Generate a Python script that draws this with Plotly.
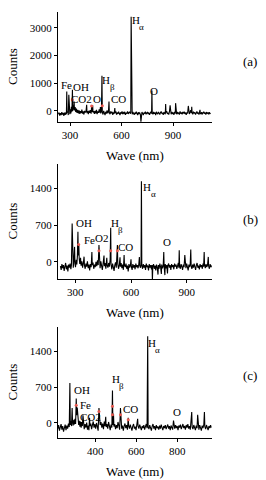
import plotly.graph_objects as go

# ---------------- data ----------------
spec_a = [(232,-120),(236,-60),(240,-170),(244,-80),(248,-150),(252,-40),(256,-130),(260,-70),(264,-180),(268,-60),
(272,-140),(276,-50),(279,-120),(281,700),(283,-60),(287,-20),(290,-150),(293,580),(295,-40),(299,-120),(302,60),
(305,-90),(308,150),(311,-30),(314,760),(316,0),(319,200),(321,40),(324,340),(326,20),(330,140),(333,-40),(337,80),
(341,-70),(345,40),(349,-90),(353,20),(357,-110),(361,-10),(365,-80),(369,50),(373,-100),(377,-20),(381,-130),(385,0),
(389,-60),(393,-20),(397,220),(399,-80),(403,-10),(407,-120),(411,10),(415,-70),(419,30),(423,-100),(426,180),(428,-40),
(432,200),(434,-60),(438,-10),(442,-110),(446,0),(450,-90),(454,40),(458,-120),(462,-20),(466,-70),(470,60),(474,-60),
(477,140),(479,-90),(483,-20),(486,1265),(488,-40),(492,-130),(496,0),(500,-80),(504,-150),(508,-30),(512,-100),(516,20),
(520,-90),(524,-10),(527,340),(529,-60),(533,-120),(537,-20),(541,-90),(545,-30),(549,-140),(553,-50),(557,-100),(561,100),
(563,-80),(567,-20),(571,-130),(575,-60),(579,-110),(583,-30),(587,-90),(591,-150),(595,-50),(599,-100),(603,-20),(607,-120),
(611,-60),(615,-90),(619,-30),(623,-140),(627,-70),(631,-100),(635,-20),(639,-110),(643,-60),(647,-30),(651,-100),(654,-60),
(656,3400),(658,-80),(662,-120),(666,-40),(670,-100),(674,-140),(678,-60),(682,-110),(686,-30),(690,-90),(694,-150),(698,-50),
(702,-100),(706,-70),(710,-130),(713,-390),(715,-110),(719,-40),(723,-90),(727,-150),(731,-60),(735,-100),(739,-30),(743,-120),
(747,-80),(751,-40),(755,-110),(759,-60),(763,-140),(767,-70),(771,-30),(775,-100),(777,735),(779,-80),(783,-120),(787,-40),
(791,-100),(795,-60),(799,-150),(803,-30),(807,-90),(811,-110),(815,-40),(819,-80),(823,-130),(827,-60),(831,-20),(835,-100),
(839,-70),(843,-140),(847,-40),(851,-90),(855,-120),(857,250),(859,-60),(863,-10),(867,-110),(871,-70),(875,-130),(879,-30),
(883,200),(885,-80),(889,-120),(893,-40),(897,-90),(901,-60),(905,-140),(909,-30),(913,-100),(915,280),(917,-70),(921,-120),
(925,-40),(929,-90),(933,-60),(937,-130),(941,-20),(945,-100),(949,-60),(953,-120),(957,-40),(961,-90),(965,-30),(969,-110),
(973,-60),(977,-140),(981,-50),(985,-90),(989,180),(991,-40),(995,-110),(999,-60),(1003,30),(1007,-80),(1009,150),(1011,-60),
(1015,-120),(1019,-30),(1023,-90),(1027,-50),(1031,-130),(1035,-70),(1039,-20),(1043,-100),(1047,-60),(1051,-130),(1055,-40),
(1057,40),(1059,-90),(1063,-110),(1067,-50),(1071,-120),(1075,-70),(1079,-30),(1083,-100),(1087,-60),(1091,-130),(1095,-40),
(1099,-90),(1103,-70),(1107,-120),(1111,-50),(1115,-100),(1119,-80)]

spec_b = [(221,-80),(225,-150),(229,-40),(233,-120),(237,-60),(241,-170),(245,-90),(249,-20),(253,-140),(257,-70),(261,-180),
(265,-50),(269,-110),(273,-30),(277,-140),(280,-60),(284,730),(286,-40),(290,-110),(293,20),(297,285),(299,-30),(302,-100),
(306,40),(309,-50),(312,100),(315,570),(317,120),(319,330),(320,300),(322,60),(325,-40),(329,80),(332,-70),(336,10),(340,-110),
(344,-20),(348,100),(350,-60),(354,-130),(358,-30),(362,-90),(366,10),(370,-120),(374,-50),(378,-160),(382,-40),(386,-100),
(390,190),(392,-60),(396,-10),(400,-130),(404,-50),(408,-100),(412,0),(416,-80),(420,30),(424,-60),(428,320),(430,-20),
(434,-120),(438,10),(442,-90),(446,-150),(450,-40),(455,120),(457,-80),(461,-20),(465,-130),(470,80),(472,-60),(476,-110),
(480,-20),(484,-90),(488,40),(491,650),(493,-50),(497,-140),(501,-30),(505,-100),(509,-170),(513,-60),(517,-10),(521,-110),
(524,60),(527,320),(529,-40),(533,-130),(537,-60),(541,90),(543,-90),(547,-20),(551,-120),(555,-50),(559,-150),(563,130),
(565,-60),(569,-100),(573,-30),(577,-130),(581,-70),(585,-180),(589,-40),(593,-110),(597,-60),(600,50),(602,-90),(606,-150),
(610,-40),(614,-110),(618,-60),(622,-140),(626,-30),(630,-100),(634,-60),(638,-120),(642,-40),(645,95),(647,-70),(651,-110),
(654,-50),(656,1530),(658,-60),(662,-130),(666,-40),(670,-110),(674,-60),(678,-150),(682,-30),(686,-100),(690,-70),(694,-160),
(698,-40),(702,-110),(706,-60),(710,-140),(713,-60),(715,-350),(717,-100),(721,-40),(725,-130),(729,-70),(733,-160),(737,-50),
(741,-110),(745,-240),(747,-60),(751,-130),(755,-30),(759,-100),(763,-230),(765,-50),(769,-120),(773,-70),(776,190),(778,-90),
(782,-250),(784,-40),(788,-120),(792,-60),(796,-220),(798,-70),(802,-30),(806,-110),(810,-60),(814,-150),(818,-40),(822,-100),
(826,-60),(830,-140),(834,-30),(838,-90),(842,-50),(846,-130),(850,-70),(854,-20),(857,-110),(859,220),(861,-60),(865,-130),
(869,-40),(873,-90),(877,-150),(881,-50),(885,-100),(889,130),(891,-60),(895,-120),(899,-30),(903,-90),(907,-160),(911,-50),
(915,-100),(918,-40),(921,235),(923,-70),(927,-130),(931,-50),(935,-110),(939,-30),(943,-90),(947,-150),(951,-60),(955,-20),
(959,-110),(963,-70),(967,-140),(971,-40),(975,-100),(979,-60),(983,-130),(987,-30),(990,-90),(993,190),(995,-50),(999,-120),
(1003,-40),(1007,-100),(1011,-60),(1015,95),(1017,-80),(1021,-130),(1025,-40),(1029,-100),(1033,-70)]

spec_c = [(217,-110),(221,-40),(225,-150),(229,-70),(233,-20),(237,-130),(241,-60),(245,-170),(249,-90),(253,-30),(257,-140),
(261,-50),(265,-110),(269,-10),(273,-80),(276,780),(278,-40),(281,40),(284,-60),(287,290),(289,20),(292,-50),(295,60),(298,-30),
(301,80),(304,-20),(307,475),(309,150),(311,280),(312,300),(314,200),(316,60),(319,-40),(322,40),(325,-70),(328,30),(331,-90),
(334,20),(337,-60),(340,150),(342,-40),(346,-120),(350,-20),(354,-90),(358,10),(362,-130),(366,-50),(369,-140),(372,100),
(374,-60),(378,-10),(382,-120),(386,-40),(390,30),(394,-90),(398,-20),(402,-110),(406,0),(410,-70),(414,-150),(418,290),
(420,40),(422,240),(424,-40),(428,20),(432,-90),(436,-10),(440,-120),(444,30),(447,-60),(451,120),(453,-80),(457,-20),
(461,-110),(465,20),(469,-70),(473,-140),(477,-30),(481,-90),(484,630),(486,-40),(489,180),(491,-70),(495,-20),(499,-120),
(503,-40),(507,-100),(511,20),(515,-80),(519,-130),(523,290),(525,-30),(529,-110),(533,-50),(537,-150),(541,-60),(545,-10),
(549,-100),(553,-40),(557,-130),(561,100),(563,-50),(567,-110),(571,-30),(575,-90),(579,-150),(583,-60),(587,-20),(591,-110),
(595,-70),(599,-140),(603,-40),(607,80),(609,-60),(613,-110),(617,-30),(621,-90),(625,-140),(629,-60),(633,-100),(637,-40),
(641,-130),(645,-70),(649,-20),(653,-100),(656,1685),(658,-70),(662,-120),(666,-40),(670,-100),(674,-150),(678,-60),(682,-20),
(686,-110),(690,-60),(694,-140),(698,-40),(702,-100),(706,-70),(710,-130),(714,-50),(718,-110),(722,-30),(726,-90),(730,-140),
(734,-60),(738,-100),(742,-40),(746,-120),(750,-70),(754,-30),(758,-110),(762,-60),(766,-140),(770,-50),(774,-90),(778,-130),
(782,45),(784,-60),(788,-110),(792,-40),(796,-100),(800,-60),(804,-140),(808,-50),(812,-90),(816,-30),(820,-120),(824,-70),
(828,-20),(832,-100),(836,-60),(840,-130),(844,-40),(848,-90),(852,-20),(856,-110),(860,-60),(864,-130),(867,-30),(871,215),
(873,-80),(877,-120),(881,-40),(885,-90),(889,-140),(893,-50),(897,-100),(900,160),(902,-60),(906,-130),(910,-40),(914,-90),
(918,-150),(922,-50),(926,-100),(930,-30),(933,215),(935,-70),(939,-120),(943,-40),(947,-90),(951,-140),(955,-60),(959,-100),
(963,-40),(966,-90)]

wave_a = [p[0] for p in spec_a]; counts_a = [p[1] for p in spec_a]
wave_b = [p[0] for p in spec_b]; counts_b = [p[1] for p in spec_b]
wave_c = [p[0] for p in spec_c]; counts_c = [p[1] for p in spec_c]

# red marks on the lines
red_wave_a = [314, 426, 488]
red_counts_a = [400, 180, 190]
red_wave_b = [319, 428, 491, 527]
red_counts_b = [330, 210, 210, 210]
red_wave_c = [307, 418, 484, 484, 523, 561]
red_counts_c = [345, 225, 325, 160, 160, 65]

# species labels: (text, subscript, wave, counts) - position is centre of main text
labels_a = [("Fe", "", 277, 940), ("OH", "", 362, 880), ("CO2", "", 368, 430), ("O", "", 457, 430),
            ("H", "β", 510, 1120), ("CO", "", 585, 430), ("H", "α", 682, 3265), ("O", "", 789, 720)]
labels_b = [("OH", "", 347, 730), ("Fe", "", 378, 415), ("O2", "", 441, 445), ("H", "β", 512, 730),
            ("CO", "", 570, 285), ("H", "α", 687, 1420), ("O", "", 791, 370)]
labels_c = [("OH", "", 336, 650), ("Fe", "", 353, 357), ("CO2", "", 376, 110), ("H", "β", 499, 857),
            ("CO", "", 572, 280), ("H", "α", 676, 1558), ("O", "", 799, 214)]

xticks_a = [300, 600, 900]
xticks_b = [300, 600, 900]
xticks_c = [400, 600, 800]
yticks_a = [0, 1000, 2000, 3000]
yticks_b = [0, 700, 1400]
yticks_c = [0, 700, 1400]
panel_tags = ["(a)", "(b)", "(c)"]

# ---------------- figure ----------------
W, H = 266, 480
FONT = "Liberation Serif"

panels = [
    dict(w=wave_a, c=counts_a, rw=red_wave_a, rc=red_counts_a, lab=labels_a, xt=xticks_a, yt=yticks_a,
         xr=[230, 1127], yr=[-400, 3570], top=12, bot=122, tag_dy=50),
    dict(w=wave_b, c=counts_b, rw=red_wave_b, rc=red_counts_b, lab=labels_b, xt=xticks_b, yt=yticks_b,
         xr=[208, 1035], yr=[-324, 1858], top=164, bot=279, tag_dy=56),
    dict(w=wave_c, c=counts_c, rw=red_wave_c, rc=red_counts_c, lab=labels_c, xt=xticks_c, yt=yticks_c,
         xr=[218, 970], yr=[-292, 1867], top=327, bot=438, tag_dy=48),
]

fig = go.Figure()
annotations = []
layout = dict(width=W, height=H, margin=dict(l=0, r=0, t=0, b=0),
              paper_bgcolor="white", plot_bgcolor="white", showlegend=False)

x0, x1 = 58 / W, 212 / W
for i, p in enumerate(panels):
    k = "" if i == 0 else str(i + 1)
    xa, ya = "x" + k, "y" + k
    fig.add_trace(go.Scatter(x=p["w"], y=p["c"], mode="lines", xaxis=xa, yaxis=ya,
                             line=dict(color="black", width=1.1), hoverinfo="skip"))
    fig.add_trace(go.Scatter(x=p["rw"], y=p["rc"], mode="markers", xaxis=xa, yaxis=ya,
                             marker=dict(color="#e8584f", size=3), hoverinfo="skip"))
    ax_common = dict(showline=True, linecolor="black", linewidth=1, ticks="outside", ticklen=3,
                     tickcolor="black", showgrid=False, zeroline=False,
                     tickfont=dict(family=FONT, size=11, color="black"))
    layout["xaxis" + k] = dict(ax_common, domain=[x0, x1], anchor=ya, range=p["xr"],
                               tickvals=p["xt"], ticktext=[str(v) for v in p["xt"]])
    layout["yaxis" + k] = dict(ax_common, domain=[1 - p["bot"] / H, 1 - p["top"] / H], anchor=xa,
                               range=p["yr"], tickvals=p["yt"], ticktext=[str(v) for v in p["yt"]])
    for txt, sub, wv, cv in p["lab"]:
        annotations.append(dict(text=txt, x=wv, y=cv, xref=xa, yref=ya, showarrow=False,
                                xanchor="center", yanchor="middle",
                                font=dict(family=FONT, size=11, color="black")))
        if sub:
            annotations.append(dict(text=sub, x=wv, y=cv, xref=xa, yref=ya, showarrow=False,
                                    xanchor="center", yanchor="middle", xshift=6, yshift=-7,
                                    font=dict(family=FONT, size=9, color="black")))
    mid = 1 - (p["top"] + p["bot"]) / 2 / H
    annotations.append(dict(text="Counts", x=12 / W, y=mid, xref="paper", yref="paper",
                            showarrow=False, textangle=-90, xanchor="center", yanchor="middle",
                            font=dict(family=FONT, size=13, color="black")))
    annotations.append(dict(text="Wave (nm)", x=135 / W, y=1 - (p["bot"] + 33) / H, xref="paper",
                            yref="paper", showarrow=False, xanchor="center", yanchor="middle",
                            font=dict(family=FONT, size=13, color="black")))
    annotations.append(dict(text=panel_tags[i], x=250 / W, y=1 - (p["top"] + p["tag_dy"]) / H,
                            xref="paper", yref="paper", showarrow=False, xanchor="center",
                            yanchor="middle", font=dict(family=FONT, size=13, color="black")))

layout["annotations"] = annotations
fig.update_layout(**layout)
fig.write_html("out.html", config={"displayModeBar": False},
               post_script="document.body.style.margin='0';document.body.style.overflow='hidden';")
